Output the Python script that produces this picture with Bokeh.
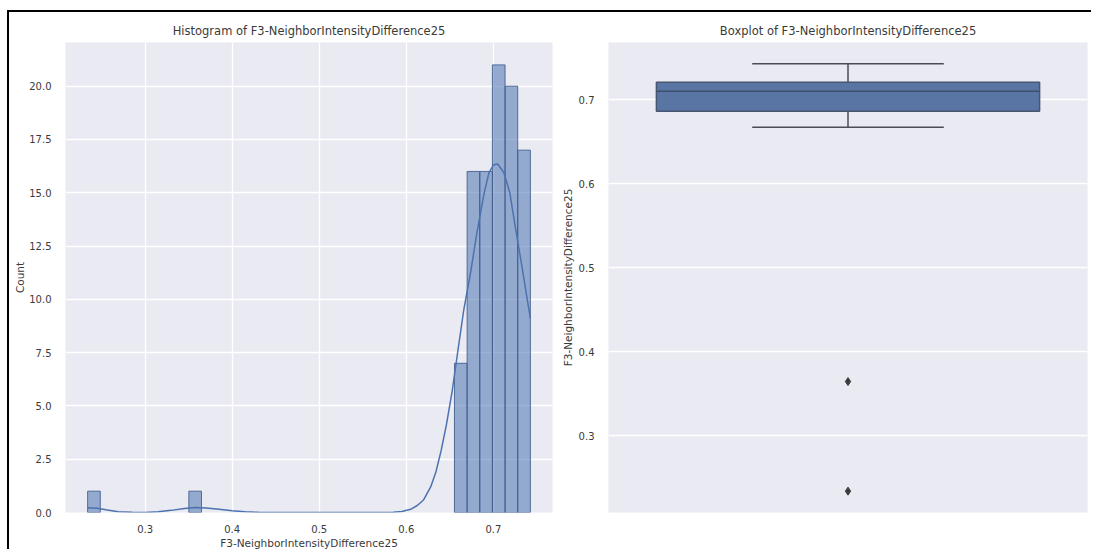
import numpy as np
from bokeh.plotting import figure
from bokeh.models import Range1d, FixedTicker, NumeralTickFormatter
from bokeh.layouts import row
from bokeh.embed import file_html
from bokeh.resources import INLINE

feature = "F3-NeighborIntensityDifference25"

# Histogram: 35 equal-width bins spanning the observed range of the feature
bin_start = 0.2340
bin_end = 0.7425
bin_counts = [1, 0, 0, 0, 0, 0, 0, 0, 1, 0,
              0, 0, 0, 0, 0, 0, 0, 0, 0, 0,
              0, 0, 0, 0, 0, 0, 0, 0, 0, 7,
              16, 16, 21, 20, 17]

# Kernel density estimate, expressed in count units
kde_x = [0.2340, 0.245, 0.255, 0.269, 0.285, 0.300, 0.315, 0.330, 0.345, 0.358,
         0.370, 0.385, 0.400, 0.415, 0.430, 0.450, 0.500, 0.560, 0.585, 0.595,
         0.605, 0.613, 0.620, 0.628, 0.634, 0.640, 0.646, 0.6527, 0.6593, 0.666,
         0.674, 0.681, 0.689, 0.695, 0.700, 0.705, 0.712, 0.7189, 0.726, 0.733,
         0.7425]
kde_y = [0.22, 0.20, 0.13, 0.04, 0.01, 0.0, 0.03, 0.10, 0.19, 0.23,
         0.21, 0.15, 0.08, 0.03, 0.01, 0.0, 0.0, 0.0, 0.01, 0.05,
         0.15, 0.34, 0.60, 1.2, 1.9, 2.9, 4.1, 5.7, 7.6, 9.5,
         11.3, 13.1, 14.9, 15.95, 16.3, 16.35, 15.95, 15.0, 13.2, 11.5,
         9.1]

# Box plot summary
box_q1 = 0.6860
box_median = 0.7098
box_q3 = 0.7205
whisker_low = 0.6672
whisker_high = 0.7425
outliers = [0.3644, 0.2340]

hist_xticks = [0.3, 0.4, 0.5, 0.6, 0.7]
hist_yticks = [0.0, 2.5, 5.0, 7.5, 10.0, 12.5, 15.0, 17.5, 20.0]
box_yticks = [0.3, 0.4, 0.5, 0.6, 0.7]

FONT = "DejaVu Sans"
TEXT = "#3a3a3a"
BG = "#eaeaf2"
BLUE = "#4c72b0"


def style(p):
    p.background_fill_color = BG
    p.border_fill_color = "white"
    p.outline_line_color = None
    p.title.align = "center"
    p.title.text_font = FONT
    p.title.text_font_style = "normal"
    p.title.text_font_size = "11.5px"
    p.title.text_color = TEXT
    p.title.standoff = 9
    for ax in (p.xaxis, p.yaxis):
        ax.axis_line_color = None
        ax.major_tick_line_color = None
        ax.minor_tick_line_color = None
        ax.major_label_text_font = FONT
        ax.major_label_text_font_size = "10px"
        ax.major_label_text_color = TEXT
        ax.axis_label_text_font = FONT
        ax.axis_label_text_font_size = "10.5px"
        ax.axis_label_text_font_style = "normal"
        ax.axis_label_text_color = TEXT
    p.grid.grid_line_color = "white"
    p.grid.grid_line_width = 1.3


# ---- Histogram with KDE ----
edges = np.linspace(bin_start, bin_end, len(bin_counts) + 1)
lefts = [edges[i] for i, c in enumerate(bin_counts) if c > 0]
rights = [edges[i + 1] for i, c in enumerate(bin_counts) if c > 0]
tops = [c for c in bin_counts if c > 0]

xpad = 0.05 * (bin_end - bin_start)
p1 = figure(width=549, height=539, output_backend="svg", toolbar_location=None,
            x_range=Range1d(bin_start - xpad, bin_end + xpad),
            y_range=Range1d(0, max(bin_counts) * 1.05),
            title=f"Histogram of {feature}",
            min_border_left=56, min_border_right=6,
            min_border_top=30, min_border_bottom=39)
style(p1)
p1.quad(left=lefts, right=rights, bottom=0, top=tops,
        fill_color=BLUE, fill_alpha=0.55,
        line_color="#3e5a8c", line_width=1, line_alpha=0.85)
p1.line(kde_x, kde_y, line_color=BLUE, line_width=1.5)
p1.xaxis.ticker = FixedTicker(ticks=hist_xticks)
p1.yaxis.ticker = FixedTicker(ticks=hist_yticks)
p1.xaxis.formatter = NumeralTickFormatter(format="0.0")
p1.yaxis.formatter = NumeralTickFormatter(format="0.0")
p1.xaxis.axis_label = feature
p1.yaxis.axis_label = "Count"
p1.xaxis.major_label_standoff = 6
p1.xaxis.axis_label_standoff = 1
p1.yaxis.major_label_standoff = 8
p1.yaxis.axis_label_standoff = 0

# ---- Box plot ----
lo = min(outliers + [whisker_low])
hi = max(outliers + [whisker_high])
ypad = 0.05 * (hi - lo)
p2 = figure(width=535, height=539, output_backend="svg", toolbar_location=None,
            x_range=Range1d(-0.5, 0.5), y_range=Range1d(lo - ypad, hi + ypad),
            title=f"Boxplot of {feature}",
            min_border_left=44, min_border_right=6,
            min_border_top=30, min_border_bottom=39)
style(p2)
p2.xaxis.visible = False
p2.xgrid.visible = False
LINE = "#4a4d55"
p2.segment(x0=[0, 0], y0=[box_q3, box_q1], x1=[0, 0], y1=[whisker_high, whisker_low],
           line_color=LINE, line_width=1.5)
p2.segment(x0=[-0.2, -0.2], y0=[whisker_high, whisker_low],
           x1=[0.2, 0.2], y1=[whisker_high, whisker_low],
           line_color=LINE, line_width=1.5)
p2.quad(left=[-0.4], right=[0.4], bottom=[box_q1], top=[box_q3],
        fill_color="#5875a3", line_color="#485670", line_width=1.5)
p2.segment(x0=[-0.4], y0=[box_median], x1=[0.4], y1=[box_median],
           line_color="#3f4f6e", line_width=1.5)
p2.scatter(x=[0] * len(outliers), y=outliers, marker="diamond", size=8,
           fill_color="#3c3c3c", line_color="#3c3c3c")
p2.yaxis.ticker = FixedTicker(ticks=box_yticks)
p2.yaxis.formatter = NumeralTickFormatter(format="0.0")
p2.yaxis.axis_label = feature
p2.yaxis.major_label_standoff = 8
p2.yaxis.axis_label_standoff = 2

# black frame along the top and left edges, drawn outside the layout box
layout = row(p1, p2, spacing=0, margin=(12, 0, 0, 9),
             styles={"box-shadow": "-2px -2px 0 0 black", "overflow": "hidden"})

html = file_html(layout, INLINE)
# keep the page itself free of scrollbars
html = html.replace("<head>", "<head><style>html, body { margin: 0; overflow: hidden; }</style>", 1)
open("out.html", "w").write(html)
